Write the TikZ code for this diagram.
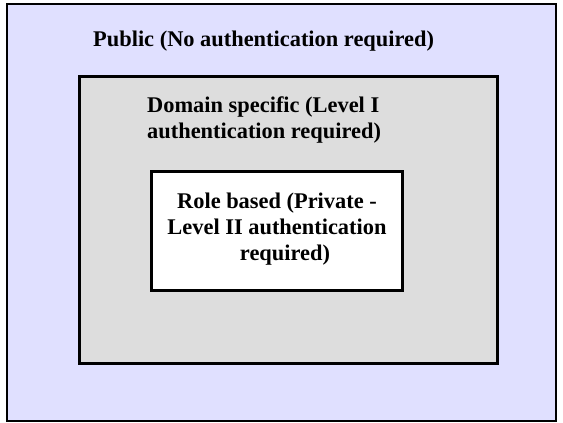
\documentclass[tikz,border=0pt]{standalone}
\usepackage{fontspec}
\setmainfont{Liberation Serif}
\definecolor{lavender}{RGB}{224,224,255}
\definecolor{midgray}{RGB}{221,221,221}
\begin{document}
\begin{tikzpicture}[x=1pt,y=-1pt,
  zone/.style={draw=black},
  label/.style={font=\fontsize{22.4}{26}\selectfont\bfseries, inner sep=0pt, anchor=base west}]
\useasboundingbox (0,0) rectangle (563,423);
\filldraw[zone, fill=lavender, line width=2pt] (7,4) rectangle (556,421);
\filldraw[zone, fill=midgray, line width=3pt] (79,76) rectangle (497,363);
\filldraw[zone, fill=white, line width=3pt] (151,171) rectangle (402,290);
\node[label] (public) at (93,46) {Public (No authentication required)};
\node[label, align=left] (domain) at (147,138) {Domain specific (Level I\\authentication required)};
\node[label, align=center, anchor=base] (role) at (277,260) {Role based (Private -\\Level II authentication\\\hspace*{16pt}required)};
\end{tikzpicture}
\end{document}
